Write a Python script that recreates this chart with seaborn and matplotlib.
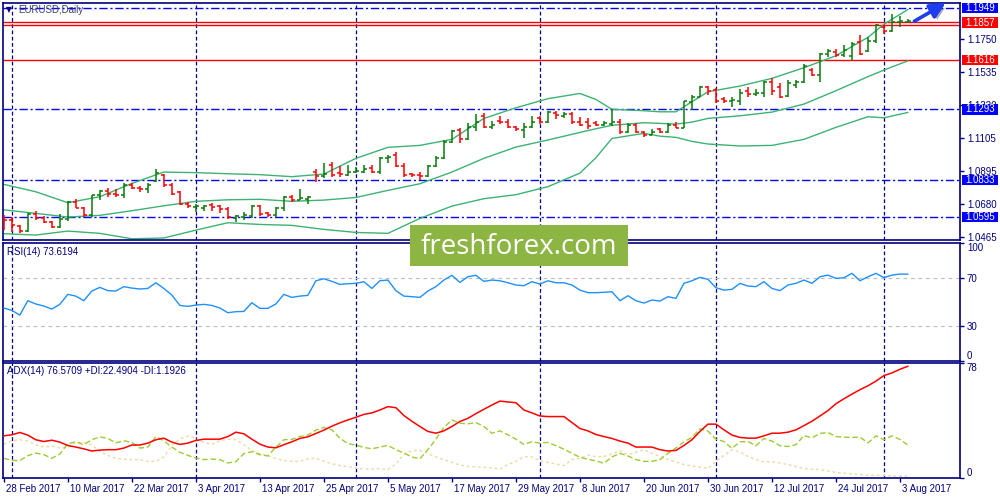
import numpy as np
import pandas as pd
import matplotlib
matplotlib.use("Agg")
import matplotlib.pyplot as plt
import matplotlib.patheffects as pe
import matplotlib.transforms as mtrans
from matplotlib.patches import Rectangle
import seaborn as sns

sns.set_style("white")
plt.rcParams["font.family"] = ["Liberation Sans", "DejaVu Sans"]

# daily EURUSD bars, 28 Feb 2017 .. 4 Aug 2017
dates = pd.bdate_range("2017-02-28", "2017-08-04")

opens = [1.0598, 1.0575, 1.0540, 1.0505, 1.0617, 1.0590, 1.0566, 1.0530, 1.0585, 1.0690,
         1.0655, 1.0610, 1.0735, 1.0765, 1.0745, 1.0740, 1.0800, 1.0785, 1.0780, 1.0828,
         1.0865, 1.0800, 1.0760, 1.0680, 1.0660, 1.0655, 1.0670, 1.0665, 1.0645, 1.0590,
         1.0598, 1.0600, 1.0665, 1.0618, 1.0605, 1.0655, 1.0725, 1.0705, 1.0710, 1.0890,
         1.0860, 1.0930, 1.0880, 1.0870, 1.0885, 1.0890, 1.0915, 1.0885, 1.0975, 1.0995,
         1.0925, 1.0875, 1.0870, 1.0862, 1.0925, 1.0980, 1.1085, 1.1160, 1.1100, 1.1180,
         1.1250, 1.1180, 1.1220, 1.1215, 1.1180, 1.1160, 1.1180, 1.1240, 1.1210, 1.1270,
         1.1250, 1.1265, 1.1210, 1.1210, 1.1205, 1.1190, 1.1200, 1.1215, 1.1150, 1.1195,
         1.1150, 1.1130, 1.1165, 1.1150, 1.1195, 1.1175, 1.1340, 1.1375, 1.1440, 1.1420,
         1.1360, 1.1345, 1.1350, 1.1410, 1.1395, 1.1400, 1.1470, 1.1440, 1.1380, 1.1455,
         1.1470, 1.1550, 1.1520, 1.1650, 1.1668, 1.1645, 1.1640, 1.1730, 1.1670, 1.1735,
         1.1830, 1.1800, 1.1860, 1.1863]
highs = [1.0608, 1.0597, 1.0543, 1.0619, 1.0636, 1.0601, 1.0571, 1.0612, 1.0699, 1.0712,
         1.0662, 1.0738, 1.0770, 1.0781, 1.0774, 1.0813, 1.0818, 1.0796, 1.0818, 1.0904,
         1.0874, 1.0818, 1.0766, 1.0694, 1.0679, 1.0675, 1.0684, 1.0673, 1.0662, 1.0608,
         1.0629, 1.0673, 1.0673, 1.0625, 1.0662, 1.0731, 1.0738, 1.0777, 1.0731, 1.0904,
         1.0943, 1.0950, 1.0928, 1.0932, 1.0921, 1.0932, 1.0932, 1.0986, 1.0997, 1.1014,
         1.0943, 1.0878, 1.0889, 1.0932, 1.0991, 1.1095, 1.1159, 1.1175, 1.1207, 1.1263,
         1.1268, 1.1220, 1.1250, 1.1229, 1.1185, 1.1203, 1.1250, 1.1250, 1.1285, 1.1285,
         1.1278, 1.1278, 1.1242, 1.1235, 1.1220, 1.1220, 1.1294, 1.1229, 1.1203, 1.1207,
         1.1152, 1.1164, 1.1175, 1.1203, 1.1214, 1.1350, 1.1387, 1.1445, 1.1445, 1.1430,
         1.1371, 1.1376, 1.1423, 1.1441, 1.1423, 1.1480, 1.1495, 1.1467, 1.1484, 1.1484,
         1.1588, 1.1560, 1.1657, 1.1683, 1.1683, 1.1711, 1.1733, 1.1776, 1.1761, 1.1847,
         1.1841, 1.1912, 1.1899, 1.1878]
lows = [1.0509, 1.0500, 1.0489, 1.0495, 1.0575, 1.0558, 1.0526, 1.0521, 1.0569, 1.0651,
        1.0597, 1.0597, 1.0705, 1.0727, 1.0727, 1.0716, 1.0774, 1.0759, 1.0753, 1.0824,
        1.0792, 1.0738, 1.0673, 1.0651, 1.0630, 1.0636, 1.0634, 1.0623, 1.0580, 1.0565,
        1.0575, 1.0586, 1.0601, 1.0597, 1.0597, 1.0636, 1.0694, 1.0705, 1.0679, 1.0824,
        1.0846, 1.0857, 1.0857, 1.0861, 1.0878, 1.0878, 1.0878, 1.0874, 1.0943, 1.0917,
        1.0857, 1.0857, 1.0835, 1.0857, 1.0921, 1.0969, 1.1077, 1.1073, 1.1095, 1.1155,
        1.1170, 1.1164, 1.1198, 1.1170, 1.1155, 1.1105, 1.1170, 1.1198, 1.1207, 1.1229,
        1.1235, 1.1198, 1.1185, 1.1164, 1.1185, 1.1185, 1.1185, 1.1133, 1.1142, 1.1138,
        1.1116, 1.1127, 1.1140, 1.1142, 1.1170, 1.1170, 1.1289, 1.1371, 1.1387, 1.1332,
        1.1337, 1.1306, 1.1322, 1.1376, 1.1380, 1.1376, 1.1387, 1.1365, 1.1375, 1.1430,
        1.1467, 1.1510, 1.1473, 1.1635, 1.1631, 1.1631, 1.1614, 1.1646, 1.1668, 1.1722,
        1.1782, 1.1797, 1.1830, 1.1863]
closes = [1.0575, 1.0545, 1.0505, 1.0617, 1.0590, 1.0566, 1.0530, 1.0585, 1.0690, 1.0655,
          1.0610, 1.0735, 1.0765, 1.0745, 1.0740, 1.0800, 1.0785, 1.0780, 1.0800, 1.0880,
          1.0800, 1.0745, 1.0680, 1.0665, 1.0668, 1.0668, 1.0660, 1.0645, 1.0595, 1.0600,
          1.0610, 1.0665, 1.0615, 1.0610, 1.0655, 1.0725, 1.0705, 1.0720, 1.0725, 1.0860,
          1.0875, 1.0870, 1.0875, 1.0890, 1.0895, 1.0905, 1.0885, 1.0975, 1.0985, 1.0925,
          1.0870, 1.0865, 1.0860, 1.0925, 1.0980, 1.1085, 1.1155, 1.1100, 1.1180, 1.1210,
          1.1180, 1.1190, 1.1210, 1.1180, 1.1165, 1.1180, 1.1210, 1.1210, 1.1275, 1.1255,
          1.1262, 1.1210, 1.1195, 1.1185, 1.1195, 1.1205, 1.1215, 1.1150, 1.1195, 1.1150,
          1.1130, 1.1150, 1.1150, 1.1190, 1.1175, 1.1345, 1.1375, 1.1440, 1.1410, 1.1345,
          1.1345, 1.1355, 1.1400, 1.1395, 1.1400, 1.1470, 1.1410, 1.1375, 1.1465, 1.1470,
          1.1575, 1.1520, 1.1650, 1.1670, 1.1645, 1.1680, 1.1720, 1.1655, 1.1740, 1.1840,
          1.1800, 1.1860, 1.1865, 1.1870]

# Bollinger bands (20) read at some bars
band_bars = [0, 4, 8, 12, 16, 20, 24, 28, 32, 36, 40, 44, 48, 52, 56, 60, 64, 68, 72, 74,
             76, 80, 82, 84, 86, 88, 92, 96, 100, 104, 108, 110, 113]
bb_upper = [1.0807, 1.0759, 1.0688, 1.0727, 1.0813, 1.0887, 1.0883, 1.0876, 1.0870, 1.0857,
            1.0874, 1.0976, 1.1047, 1.1060, 1.1099, 1.1235, 1.1304, 1.1363, 1.1397, 1.1358,
            1.1294, 1.1285, 1.1278, 1.1278, 1.1343, 1.1408, 1.1445, 1.1495, 1.1564, 1.1642,
            1.1761, 1.1847, 1.1942]
bb_middle = [1.0642, 1.0619, 1.0595, 1.0606, 1.0636, 1.0668, 1.0697, 1.0707, 1.0710, 1.0697,
             1.0705, 1.0722, 1.0768, 1.0811, 1.0887, 1.0976, 1.1049, 1.1095, 1.1144, 1.1168,
             1.1190, 1.1207, 1.1203, 1.1198, 1.1211, 1.1235, 1.1252, 1.1276, 1.1328, 1.1415,
             1.1506, 1.1549, 1.1609]
bb_lower = [1.0487, 1.0478, 1.0504, 1.0489, 1.0454, 1.0459, 1.0510, 1.0558, 1.0547, 1.0541,
            1.0515, 1.0495, 1.0489, 1.0586, 1.0666, 1.0714, 1.0740, 1.0792, 1.0880, 1.0980,
            1.1105, 1.1138, 1.1120, 1.1112, 1.1086, 1.1069, 1.1056, 1.1060, 1.1099, 1.1177,
            1.1246, 1.1239, 1.1274]

rsi = [44.9, 42.9, 38.9, 51.1, 48.3, 46.6, 44.0, 48.0, 56.5, 55.0,
       51.1, 59.3, 62.4, 59.6, 59.3, 63.0, 61.8, 61.0, 61.5, 66.3,
       61.5, 55.9, 47.1, 46.3, 47.4, 48.0, 47.1, 44.9, 40.9, 41.8,
       42.0, 49.4, 44.6, 44.6, 48.3, 56.5, 53.9, 55.0, 55.6, 68.0,
       69.7, 67.5, 64.9, 65.5, 65.8, 67.2, 61.5, 68.0, 68.6, 59.6,
       55.0, 54.5, 53.9, 59.3, 63.0, 68.6, 72.6, 66.6, 71.4, 72.6,
       67.5, 68.6, 68.0, 66.3, 64.4, 63.8, 67.2, 65.2, 68.0, 66.3,
       66.3, 64.4, 60.1, 57.9, 57.9, 58.2, 58.7, 51.1, 55.3, 51.1,
       49.1, 51.7, 50.8, 54.5, 53.1, 65.8, 68.0, 70.9, 69.2, 62.1,
       60.1, 60.7, 65.8, 63.5, 63.0, 67.2, 61.5, 59.6, 64.4, 65.8,
       68.6, 65.8, 71.4, 72.8, 70.0, 70.6, 74.3, 68.0, 71.4, 74.3,
       70.6, 72.8, 73.7, 73.6]

adx = [28.9, 29.6, 31.2, 29.4, 26.2, 25.0, 25.9, 24.6, 22.3, 21.2,
       20.0, 18.5, 19.1, 19.4, 19.4, 20.5, 22.6, 22.6, 23.9, 26.2,
       27.3, 24.6, 23.0, 23.9, 25.7, 26.6, 26.6, 26.6, 28.4, 31.4,
       30.3, 26.6, 23.2, 21.2, 20.7, 22.8, 24.8, 27.1, 28.2, 30.5,
       32.8, 35.5, 37.8, 39.8, 41.6, 43.6, 44.6, 46.6, 48.9, 48.2,
       42.8, 38.9, 35.3, 31.9, 30.7, 32.3, 35.3, 38.7, 40.9, 44.1,
       47.1, 50.0, 52.7, 52.1, 51.6, 46.6, 44.6, 42.5, 42.1, 42.1,
       42.1, 38.0, 33.9, 32.3, 29.8, 28.4, 27.1, 25.3, 23.9, 21.2,
       21.2, 21.2, 19.4, 18.5, 18.9, 22.3, 26.2, 31.9, 36.9, 36.9,
       33.0, 29.4, 27.8, 27.3, 27.3, 28.9, 30.7, 30.7, 31.4, 33.0,
       35.9, 38.9, 42.5, 46.2, 50.9, 54.3, 57.5, 60.5, 63.2, 66.4,
       70.2, 72.0, 74.5, 76.6]
plus_di = [13.5, 12.1, 11.9, 15.3, 17.1, 16.0, 13.5, 16.4, 23.5, 24.8,
           22.8, 26.2, 28.2, 27.1, 24.1, 25.5, 24.4, 20.5, 21.2, 28.4,
           25.5, 21.2, 17.6, 15.5, 13.7, 12.6, 13.0, 12.6, 10.3, 11.2,
           16.7, 18.0, 16.0, 15.1, 21.2, 26.2, 26.4, 28.4, 29.4, 32.8,
           34.6, 33.0, 27.3, 23.5, 22.6, 20.9, 20.0, 21.2, 22.3, 19.4,
           17.1, 14.4, 13.2, 19.4, 26.6, 34.6, 39.8, 37.5, 37.1, 38.0,
           35.3, 30.7, 32.3, 29.6, 26.6, 23.0, 24.8, 23.9, 24.4, 22.1,
           19.8, 16.9, 14.2, 12.8, 11.7, 10.1, 14.4, 16.9, 15.1, 12.6,
           11.4, 11.4, 12.6, 16.9, 20.5, 24.8, 27.8, 33.7, 32.1, 26.6,
           25.0, 20.3, 24.8, 25.0, 22.1, 27.1, 25.3, 22.1, 21.6, 22.8,
           29.1, 27.5, 30.5, 31.2, 28.4, 28.0, 27.8, 28.0, 24.1, 28.9,
           26.2, 28.9, 26.4, 22.5]
minus_di = [23.2, 25.5, 26.2, 25.3, 22.8, 21.2, 21.9, 20.7, 21.2, 24.4,
            24.4, 22.6, 18.2, 15.5, 13.5, 12.8, 12.6, 12.6, 11.4, 11.4,
            14.4, 22.1, 26.9, 28.7, 27.3, 24.4, 23.0, 25.5, 26.6, 26.2,
            22.8, 18.9, 16.7, 15.1, 13.5, 11.9, 11.4, 11.4, 13.2, 13.5,
            11.4, 9.8, 8.5, 7.8, 6.9, 6.2, 6.2, 6.4, 5.8, 9.6,
            16.4, 18.7, 18.9, 16.7, 14.4, 12.6, 10.7, 8.9, 8.0, 7.6,
            7.3, 6.9, 6.2, 9.2, 11.4, 14.6, 14.4, 11.7, 10.7, 9.6,
            8.5, 12.6, 13.5, 15.7, 14.6, 14.8, 16.4, 18.7, 16.0, 17.6,
            19.4, 16.9, 14.8, 12.6, 11.0, 9.2, 8.2, 7.6, 6.4, 11.4,
            15.5, 19.4, 17.8, 14.8, 12.6, 11.0, 11.2, 10.3, 9.2, 7.8,
            6.4, 6.0, 5.8, 4.8, 3.9, 3.3, 2.8, 2.4, 1.9, 1.9,
            1.7, 1.4, 1.2, 1.2]

blue_levels = [1.1949, 1.1293, 1.0833, 1.0595]
red_levels = [1.1861, 1.1841, 1.1616]
price_ticks = [1.1750, 1.1535, 1.1320, 1.1105, 1.0895, 1.0680, 1.0465]
marked = [(1.1949, "#0000FF"), (1.1857, "#FF0000"), (1.1616, "#FF0000"),
          (1.1293, "#0000FF"), (1.0833, "#0000FF"), (1.0595, "#0000FF")]

navy = "#000080"
W, H = 1000, 500


def frame(l, t, r, b):
    return [l / W, 1 - b / H, (r - l) / W, (b - t) / H]


fig = plt.figure(figsize=(10, 5), dpi=100)
ax_p = fig.add_axes(frame(3, 3, 960, 240))
ax_r = fig.add_axes(frame(3, 243, 960, 361))
ax_a = fig.add_axes(frame(3, 363, 960, 478))

month_starts = [i for i in range(1, len(dates)) if dates[i].month != dates[i - 1].month]
bar = np.arange(len(dates))

for ax in (ax_p, ax_r, ax_a):
    ax.set_xlim(-0.1, 119.5)
    for s in ax.spines.values():
        s.set_color(navy)
        s.set_linewidth(1.2)
    ax.yaxis.tick_right()
    ax.tick_params(axis="y", direction="out", length=3, width=1, colors=navy,
                   labelsize=7, pad=2, right=True, left=False)
    for m in month_starts:
        ax.axvline(m, color=navy, lw=0.9, dashes=(3, 2), zorder=1)

# ---- price panel
for lv in blue_levels:
    ax_p.axhline(lv, color="#0000FF", lw=1, dashes=(6, 2, 1.5, 2), zorder=1)
for lv in red_levels:
    ax_p.axhline(lv, color="#FF0000", lw=1, zorder=1)

bands = pd.DataFrame({"bar": band_bars, "upper": bb_upper,
                      "middle": bb_middle, "lower": bb_lower})
for col in ["upper", "middle", "lower"]:
    sns.lineplot(data=bands, x="bar", y=col, ax=ax_p, color="#3CB371", lw=1, zorder=2)

o, h, l, c = map(np.array, (opens, highs, lows, closes))
bar_col = np.where(c >= o, "#0A7A0A", "#FF0000")
ax_p.vlines(bar, l, h, colors=bar_col, lw=1.1, zorder=3)
ax_p.hlines(o, bar - 0.38, bar, colors=bar_col, lw=1.1, zorder=3)
ax_p.hlines(c, bar, bar + 0.38, colors=bar_col, lw=1.1, zorder=3)

ax_p.set_ylim(1.0446, 1.1984)
ax_p.set_yticks(price_ticks)
ax_p.set_yticklabels([f"{v:.4f}" for v in price_ticks])
ax_p.set_xticks([])
ax_p.set_xlabel("")
ax_p.set_ylabel("")

mix = mtrans.blended_transform_factory(ax_p.transAxes, ax_p.transData)
for val, col in marked:
    ax_p.add_patch(Rectangle((1 + 2 / 957, val - 0.0033), 36 / 957, 0.0066,
                             transform=mix, fc=col, ec="none", clip_on=False, zorder=6))
    ax_p.text(1 + 5 / 957, val, f"{val:.4f}", transform=mix, color="white", fontsize=7,
              va="center", ha="left", zorder=7, clip_on=False)

ax_p.text(0.003, 0.972, "\u25bc", transform=ax_p.transAxes, color=navy, fontsize=5.5,
          va="center", ha="left", family="DejaVu Sans")
ax_p.text(0.0157, 0.970, "EURUSD,Daily", transform=ax_p.transAxes, color="#404070",
          fontsize=7, va="center", ha="left")

ax_p.annotate("", xy=(117.7, 1.1983), xytext=(113.8, 1.1866), annotation_clip=False,
              arrowprops=dict(arrowstyle="-|>,head_length=0.9,head_width=0.45",
                              color="#1E3CF0", lw=2.6, shrinkA=0, shrinkB=0, clip_on=False,
                              path_effects=[pe.SimplePatchShadow(offset=(2, -2), alpha=0.35),
                                            pe.Normal()]))

# ---- RSI panel
ax_r.axhline(70, color="#C0C0C0", lw=0.9, dashes=(3, 3), zorder=1)
ax_r.axhline(30, color="#C0C0C0", lw=0.9, dashes=(3, 3), zorder=1)
sns.lineplot(x=bar, y=rsi, ax=ax_r, color="#1E90FF", lw=1, zorder=3)
ax_r.set_ylim(0, 100)
ax_r.set_yticks([0, 30, 70, 100])
ax_r.set_yticklabels(["0", "30", "70", "100"])
ax_r.get_yticklabels()[0].set_va("bottom")
ax_r.get_yticklabels()[-1].set_va("top")
ax_r.set_xticks([])
ax_r.text(0.0042, 0.925, "RSI(14) 73.6194", transform=ax_r.transAxes, color=navy,
          fontsize=7, va="center", ha="left")

# ---- ADX panel
sns.lineplot(x=bar, y=minus_di, ax=ax_a, color="#F2D7A6", lw=1, zorder=2)
ax_a.get_lines()[-1].set_dashes((2, 2))
sns.lineplot(x=bar, y=plus_di, ax=ax_a, color="#9ACD32", lw=1, zorder=2)
ax_a.get_lines()[-1].set_dashes((4, 2))
sns.lineplot(x=bar, y=adx, ax=ax_a, color="#FF0000", lw=1.1, zorder=3)
ax_a.set_ylim(0, 78.8)
ax_a.set_yticks([0, 78.8])
ax_a.set_yticklabels(["0", "78"])
ax_a.get_yticklabels()[0].set_va("bottom")
ax_a.get_yticklabels()[-1].set_va("top")
ax_a.text(0.0042, 0.93, "ADX(14) 76.5709 +DI:22.4904 -DI:1.1926", transform=ax_a.transAxes,
          color=navy, fontsize=7, va="center", ha="left")

tick_bars = list(range(0, len(dates), 8))
ax_a.set_xticks(tick_bars)
ax_a.set_xticklabels([f"{dates[i].day} {dates[i]:%b %Y}" for i in tick_bars])
ax_a.tick_params(axis="x", direction="out", length=3, width=1, colors=navy,
                 labelsize=7, pad=1, bottom=True)
shift = mtrans.ScaledTranslation(1.5 / 72, 0, fig.dpi_scale_trans)
for lab in ax_a.get_xticklabels():
    lab.set_ha("left")
    lab.set_transform(lab.get_transform() + shift)

for ax in (ax_p, ax_r, ax_a):
    ax.set_xlim(-0.1, 119.5)
    ax.set_xlabel("")
    ax.set_ylabel("")

# watermark
fig.patches.append(Rectangle((0.410, 0.468), 0.218, 0.082, transform=fig.transFigure,
                             fc="#8DB543", ec="none", zorder=10))
fig.text(0.519, 0.507, "freshforex.com", color="white", fontsize=20, family="Open Sans",
         ha="center", va="center", zorder=11)

fig.savefig("out.png", dpi=100)
